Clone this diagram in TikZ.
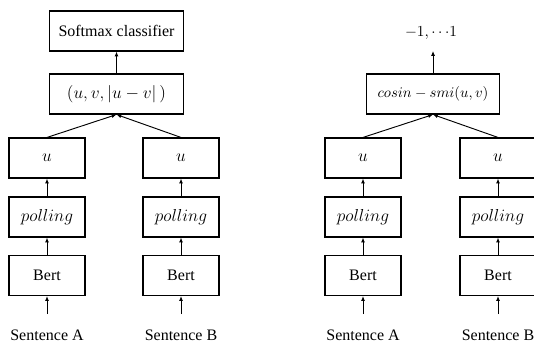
\RequirePackage{fix-cm}
\documentclass[tikz,border=0pt]{standalone}
\usepackage{fontspec}
\setmainfont{Liberation Serif}
\usetikzlibrary{arrows.meta}
\tikzset{
  blk/.style={draw, line width=0.85pt, minimum height=30pt, inner sep=0pt, font=\fontsize{12}{14}\selectfont},
  mth/.style={font=\fontsize{13}{15}\selectfont},
  wide/.style={blk, minimum width=101pt},
  narrow/.style={blk, minimum width=57pt},
  lbl/.style={inner sep=0pt, font=\fontsize{12}{14}\selectfont},
  conn/.style={line width=0.7pt, -{Latex[length=3.6pt,width=3pt]}}
}
\begin{document}
\begin{tikzpicture}[x=0.75pt,y=-0.75pt]
\clip (0,0) rectangle (534,343);
\useasboundingbox (0,0) rectangle (534,343);

% left model: softmax head
\node[wide] (soft) at (116.5,31) {Softmax classifier};
\node[wide, mth] (cat) at (116.5,94) {$(u,v,|u-v|\,)$};
\foreach \nm/\cx/\s in {la/47/A, lb/181/B}{
  \node[narrow, mth] (\nm u) at (\cx,158) {$u$};
  \node[narrow, mth] (\nm p) at (\cx,217) {$polling$};
  \node[narrow] (\nm b) at (\cx,275.5) {Bert};
  \coordinate (\nm in) at (\cx,314);
  \node[lbl] (\nm s) at (\cx,335) {Sentence \s};
  \draw[conn] (\nm in) -- (\nm b);
  \draw[conn] (\nm b) -- (\nm p);
  \draw[conn] (\nm p) -- (\nm u);
  \draw[conn] (\nm u.north) -- (cat.south);
}
\draw[conn] (cat) -- (soft);

% right model: cosine similarity head
\node[lbl, font=\fontsize{11.5}{14}\selectfont] (out) at (431,33) {$-1,{\cdots}1$};
\coordinate (outarr) at (433,51);
\node[wide, font=\fontsize{11}{13}\selectfont, minimum width=100pt] (cos) at (433,94) {$cosin-smi(u,v)$};
\foreach \nm/\cx/\s in {ra/363/A, rb/498/B}{
  \node[narrow, mth] (\nm u) at (\cx,158) {$u$};
  \node[narrow, mth] (\nm p) at (\cx,217) {$polling$};
  \node[narrow] (\nm b) at (\cx,275.5) {Bert};
  \coordinate (\nm in) at (\cx,314);
  \node[lbl] (\nm s) at (\cx,335) {Sentence \s};
  \draw[conn] (\nm in) -- (\nm b);
  \draw[conn] (\nm b) -- (\nm p);
  \draw[conn] (\nm p) -- (\nm u);
  \draw[conn] (\nm u.north) -- (cos.south);
}
\draw[conn] (cos) -- (outarr);
\end{tikzpicture}
\end{document}
